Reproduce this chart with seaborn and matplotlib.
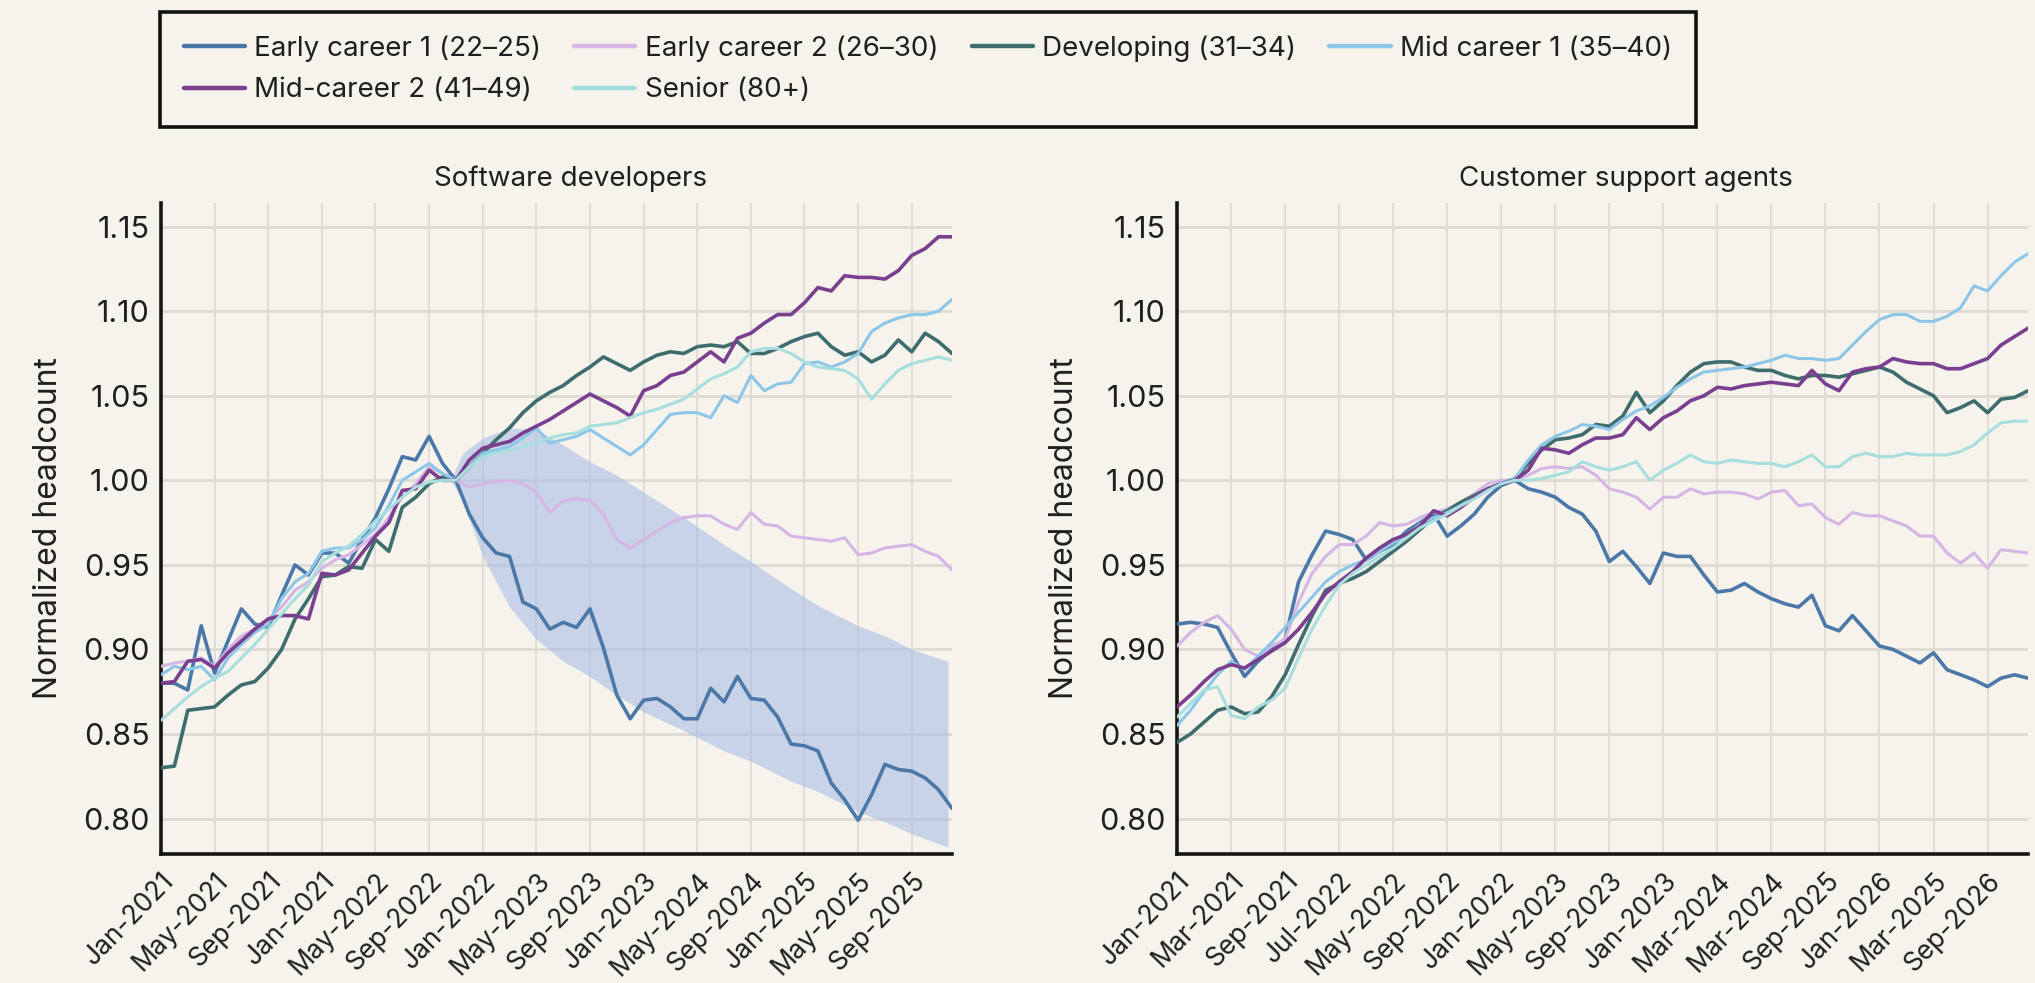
import numpy as np
import pandas as pd
import matplotlib
matplotlib.use("Agg")
import matplotlib.pyplot as plt
import seaborn as sns

# ---------------- data ----------------
groups = ["Early career 1 (22–25)", "Early career 2 (26–30)", "Developing (31–34)",
          "Mid career 1 (35–40)", "Mid-career 2 (41–49)", "Senior (80+)"]
colors = ["#4c78a8", "#d6b6e4", "#3f6d6e", "#8ec6e8", "#7a3f8e", "#a8dedd"]
widths = [2.6, 2.2, 2.6, 2.2, 2.6, 2.2]

# Software developers, monthly from Jan-2021
sw_months = list(range(60))
sw_early1 = [0.880, 0.880, 0.876, 0.914, 0.886, 0.905, 0.924, 0.915, 0.913, 0.932,
             0.950, 0.944, 0.957, 0.957, 0.951, 0.965, 0.978, 0.995, 1.014, 1.012,
             1.026, 1.010, 1.000, 0.980, 0.966, 0.957, 0.955, 0.928, 0.924, 0.912,
             0.916, 0.913, 0.924, 0.901, 0.873, 0.859, 0.870, 0.871, 0.866, 0.859,
             0.859, 0.877, 0.869, 0.884, 0.871, 0.870, 0.860, 0.844, 0.843, 0.840,
             0.821, 0.811, 0.799, 0.814, 0.832, 0.829, 0.828, 0.824, 0.817, 0.806]
sw_early2 = [0.890, 0.892, 0.893, 0.895, 0.890, 0.900, 0.908, 0.912, 0.918, 0.925,
             0.935, 0.940, 0.948, 0.953, 0.956, 0.962, 0.968, 0.978, 0.990, 0.998,
             1.008, 1.004, 1.000, 0.996, 0.998, 0.999, 1.000, 0.998, 0.993, 0.981,
             0.988, 0.989, 0.988, 0.980, 0.965, 0.960, 0.965, 0.970, 0.975, 0.978,
             0.979, 0.979, 0.974, 0.971, 0.981, 0.974, 0.973, 0.967, 0.966, 0.965,
             0.964, 0.966, 0.956, 0.957, 0.960, 0.961, 0.962, 0.958, 0.955, 0.947]
sw_developing = [0.830, 0.831, 0.864, 0.865, 0.866, 0.873, 0.879, 0.881, 0.889, 0.900,
                 0.918, 0.930, 0.943, 0.944, 0.949, 0.948, 0.965, 0.958, 0.984, 0.990,
                 0.998, 1.002, 1.000, 1.008, 1.016, 1.024, 1.031, 1.040, 1.047, 1.052,
                 1.056, 1.062, 1.067, 1.073, 1.069, 1.065, 1.070, 1.074, 1.076, 1.075,
                 1.079, 1.080, 1.079, 1.082, 1.075, 1.075, 1.078, 1.082, 1.085, 1.087,
                 1.079, 1.074, 1.076, 1.070, 1.074, 1.083, 1.076, 1.087, 1.082, 1.075]
sw_mid1 = [0.885, 0.890, 0.888, 0.890, 0.882, 0.895, 0.903, 0.910, 0.915, 0.930,
           0.940, 0.945, 0.958, 0.960, 0.960, 0.965, 0.972, 0.985, 1.000, 1.005,
           1.010, 1.004, 1.000, 1.008, 1.016, 1.018, 1.020, 1.025, 1.031, 1.022,
           1.024, 1.026, 1.030, 1.025, 1.020, 1.015, 1.021, 1.030, 1.039, 1.040,
           1.040, 1.037, 1.050, 1.046, 1.062, 1.053, 1.057, 1.058, 1.069, 1.070,
           1.067, 1.070, 1.075, 1.088, 1.093, 1.096, 1.098, 1.098, 1.100, 1.107]
sw_mid2 = [0.880, 0.881, 0.893, 0.894, 0.889, 0.898, 0.905, 0.912, 0.918, 0.920,
           0.920, 0.918, 0.945, 0.944, 0.947, 0.957, 0.967, 0.975, 0.994, 0.995,
           1.006, 1.000, 1.000, 1.012, 1.019, 1.021, 1.023, 1.028, 1.032, 1.036,
           1.041, 1.046, 1.051, 1.047, 1.043, 1.038, 1.053, 1.056, 1.062, 1.064,
           1.070, 1.076, 1.070, 1.084, 1.087, 1.093, 1.098, 1.098, 1.105, 1.114,
           1.112, 1.121, 1.120, 1.120, 1.119, 1.124, 1.133, 1.137, 1.144, 1.144]
sw_senior = [0.858, 0.865, 0.872, 0.878, 0.883, 0.887, 0.895, 0.903, 0.912, 0.921,
             0.930, 0.938, 0.952, 0.957, 0.961, 0.968, 0.976, 0.983, 0.990, 0.996,
             0.999, 1.000, 1.000, 1.008, 1.014, 1.016, 1.018, 1.020, 1.022, 1.025,
             1.027, 1.028, 1.032, 1.033, 1.034, 1.037, 1.040, 1.042, 1.045, 1.048,
             1.054, 1.060, 1.063, 1.067, 1.076, 1.078, 1.078, 1.075, 1.070, 1.067,
             1.066, 1.065, 1.060, 1.048, 1.057, 1.065, 1.069, 1.071, 1.073, 1.071]

# uncertainty band around early career 1 (software developers)
band_months = [21.6, 22.5, 24, 26, 28, 30, 32, 34, 36, 39, 42, 44, 47, 49, 52, 54, 56, 58.7]
band_hi = [1.000, 1.016, 1.025, 1.031, 1.030, 1.021, 1.011, 1.003, 0.993, 0.978,
           0.962, 0.952, 0.936, 0.926, 0.914, 0.908, 0.900, 0.893]
band_lo = [1.000, 0.988, 0.955, 0.925, 0.906, 0.893, 0.884, 0.873, 0.863, 0.852,
           0.840, 0.834, 0.822, 0.816, 0.804, 0.798, 0.791, 0.783]

# Customer support agents, monthly from Jan-2021
cs_months = list(range(64))
cs_early1 = [0.915, 0.916, 0.915, 0.913, 0.898, 0.884, 0.893, 0.900, 0.906, 0.940,
             0.956, 0.970, 0.968, 0.965, 0.953, 0.958, 0.962, 0.970, 0.975, 0.980,
             0.967, 0.973, 0.980, 0.990, 0.997, 1.000, 0.995, 0.993, 0.990, 0.984,
             0.980, 0.970, 0.952, 0.958, 0.949, 0.939, 0.957, 0.955, 0.955, 0.944,
             0.934, 0.935, 0.939, 0.934, 0.930, 0.927, 0.925, 0.932, 0.914, 0.911,
             0.920, 0.911, 0.902, 0.900, 0.896, 0.892, 0.898, 0.888, 0.885, 0.882,
             0.878, 0.883, 0.885, 0.883]
cs_early2 = [0.902, 0.910, 0.916, 0.920, 0.912, 0.900, 0.896, 0.902, 0.906, 0.928,
             0.945, 0.955, 0.962, 0.962, 0.967, 0.975, 0.973, 0.974, 0.978, 0.981,
             0.983, 0.987, 0.992, 0.998, 1.000, 1.000, 1.003, 1.007, 1.008, 1.007,
             1.008, 1.003, 0.995, 0.993, 0.990, 0.983, 0.990, 0.990, 0.995, 0.992,
             0.993, 0.993, 0.992, 0.989, 0.993, 0.994, 0.985, 0.986, 0.978, 0.974,
             0.981, 0.979, 0.979, 0.976, 0.973, 0.967, 0.967, 0.957, 0.951, 0.957,
             0.948, 0.959, 0.958, 0.957]
cs_developing = [0.845, 0.850, 0.857, 0.864, 0.866, 0.862, 0.863, 0.872, 0.885, 0.903,
                 0.920, 0.935, 0.939, 0.942, 0.946, 0.952, 0.958, 0.964, 0.971, 0.978,
                 0.982, 0.987, 0.991, 0.995, 0.998, 1.001, 1.010, 1.018, 1.024, 1.025,
                 1.027, 1.033, 1.032, 1.038, 1.052, 1.040, 1.047, 1.056, 1.064, 1.069,
                 1.070, 1.070, 1.067, 1.065, 1.065, 1.062, 1.060, 1.062, 1.062, 1.061,
                 1.063, 1.065, 1.067, 1.064, 1.058, 1.054, 1.050, 1.040, 1.043, 1.047,
                 1.040, 1.048, 1.049, 1.053]
cs_mid1 = [0.855, 0.864, 0.875, 0.885, 0.893, 0.888, 0.896, 0.904, 0.913, 0.922,
           0.931, 0.940, 0.946, 0.950, 0.953, 0.958, 0.963, 0.968, 0.974, 0.978,
           0.981, 0.985, 0.990, 0.995, 0.998, 1.001, 1.012, 1.021, 1.026, 1.029,
           1.033, 1.032, 1.030, 1.036, 1.041, 1.044, 1.049, 1.055, 1.060, 1.064,
           1.065, 1.066, 1.067, 1.069, 1.071, 1.074, 1.072, 1.072, 1.071, 1.072,
           1.080, 1.088, 1.095, 1.098, 1.098, 1.094, 1.094, 1.097, 1.102, 1.115,
           1.112, 1.121, 1.129, 1.134]
cs_mid2 = [0.866, 0.873, 0.881, 0.888, 0.891, 0.889, 0.894, 0.899, 0.904, 0.912,
           0.922, 0.933, 0.940, 0.946, 0.954, 0.960, 0.965, 0.968, 0.973, 0.982,
           0.979, 0.984, 0.990, 0.995, 0.998, 1.000, 1.006, 1.019, 1.018, 1.016,
           1.021, 1.025, 1.025, 1.027, 1.037, 1.030, 1.037, 1.041, 1.047, 1.050,
           1.055, 1.054, 1.056, 1.057, 1.058, 1.057, 1.056, 1.065, 1.057, 1.053,
           1.064, 1.066, 1.067, 1.072, 1.070, 1.069, 1.069, 1.066, 1.066, 1.069,
           1.072, 1.080, 1.085, 1.090]
cs_senior = [0.860, 0.868, 0.876, 0.878, 0.861, 0.859, 0.866, 0.870, 0.877, 0.895,
             0.912, 0.926, 0.938, 0.945, 0.950, 0.955, 0.960, 0.966, 0.972, 0.976,
             0.980, 0.985, 0.989, 0.994, 0.998, 1.000, 1.000, 1.001, 1.003, 1.005,
             1.011, 1.008, 1.006, 1.008, 1.011, 1.000, 1.006, 1.010, 1.015, 1.011,
             1.010, 1.012, 1.011, 1.010, 1.010, 1.008, 1.011, 1.015, 1.008, 1.008,
             1.014, 1.016, 1.014, 1.014, 1.016, 1.015, 1.015, 1.015, 1.017, 1.021,
             1.028, 1.034, 1.035, 1.035]

sw_ticks = list(range(0, 60, 4))
sw_tick_labels = ["Jan-2021", "May-2021", "Sep-2021", "Jan-2021", "May-2022", "Sep-2022",
                  "Jan-2022", "May-2023", "Sep-2023", "Jan-2023", "May-2024", "Sep-2024",
                  "Jan-2025", "May-2025", "Sep-2025"]
cs_ticks = list(range(0, 64, 4))
cs_tick_labels = ["Jan-2021", "Mar-2021", "Sep-2021", "Jul-2022", "May-2022", "Sep-2022",
                  "Jan-2022", "May-2023", "Sep-2023", "Jan-2023", "Mar-2024", "Mar-2024",
                  "Sep-2025", "Jan-2026", "Mar-2025", "Sep-2026"]
y_ticks = [0.80, 0.85, 0.90, 0.95, 1.00, 1.05, 1.10, 1.15]

# ---------------- style ----------------
BG = "#f5f3ec"
INK = "#1f1f1f"
sns.set_theme(style="white")
plt.rcParams["font.family"] = ["Inter", "DejaVu Sans"]
plt.rcParams["text.color"] = INK
plt.rcParams["axes.labelcolor"] = INK
plt.rcParams["xtick.color"] = INK
plt.rcParams["ytick.color"] = INK


def long_form(months, series):
    rows = []
    for name, vals in zip(groups, series):
        rows.append(pd.DataFrame({"month": months, "value": vals, "group": name}))
    return pd.concat(rows, ignore_index=True)


sw_df = long_form(sw_months, [sw_early1, sw_early2, sw_developing, sw_mid1, sw_mid2, sw_senior])
cs_df = long_form(cs_months, [cs_early1, cs_early2, cs_developing, cs_mid1, cs_mid2, cs_senior])

fig = plt.figure(figsize=(20.35, 9.83), dpi=100, facecolor=BG)
ax1 = fig.add_axes([0.0791, 0.1312, 0.3887, 0.6623])
ax2 = fig.add_axes([0.5784, 0.1312, 0.4182, 0.6623])

ax1.fill_between(band_months, band_lo, band_hi, color="#9db4e6", alpha=0.5,
                 linewidth=0, zorder=1)

panels = [
    (ax1, sw_df, "Software developers", (0, 59), sw_ticks, sw_tick_labels, 0.518),
    (ax2, cs_df, "Customer support agents", (0, 63), cs_ticks, cs_tick_labels, 0.528),
]
for ax, df, title, xlim, ticks, labels, tx in panels:
    ax.set_facecolor(BG)
    for name, col, lw in zip(groups, colors, widths):
        sub = df[df["group"] == name]
        sns.lineplot(data=sub, x="month", y="value", color=col, linewidth=lw,
                     label=name, legend=False, ax=ax, zorder=3)
    ax.set_xlim(*xlim)
    ax.set_ylim(0.779, 1.164)
    ax.set_xticks(ticks)
    ax.set_xticklabels(labels, rotation=46, ha="right", va="top",
                       rotation_mode="anchor", fontsize=19)
    ax.set_yticks(y_ticks)
    ax.set_yticklabels([f"{v:.2f}" for v in y_ticks], fontsize=22)
    ax.tick_params(axis="both", length=0)
    ax.tick_params(axis="y", pad=8)
    ax.tick_params(axis="x", pad=10)
    ax.grid(axis="y", color="#dedbd4", linewidth=2.0, zorder=0)
    ax.grid(axis="x", color="#dedbd4", linewidth=1.3, zorder=0)
    ax.set_axisbelow(True)
    for s in ["top", "right"]:
        ax.spines[s].set_visible(False)
    for s in ["left", "bottom"]:
        ax.spines[s].set_linewidth(2.6)
        ax.spines[s].set_color("#151515")
    ax.set_xlabel("")
    ax.set_ylabel("Normalized headcount", fontsize=23, labelpad=14)
    ax.set_title(title, fontsize=20, pad=12, x=tx)

# legend, filled row by row
handles, labs = ax1.get_legend_handles_labels()
order = [0, 4, 1, 5, 2, 3]
leg = fig.legend([handles[i] for i in order], [labs[i] for i in order],
                 loc="upper left", bbox_to_anchor=(0.0786, 0.8698, 0.7548, 0.118),
                 mode="expand", ncol=4, fontsize=20, frameon=True, fancybox=False,
                 borderaxespad=0, borderpad=0.85, labelspacing=0.55,
                 handlelength=2.2, handletextpad=0.35)
frame = leg.get_frame()
frame.set_edgecolor("#111111")
frame.set_linewidth(2.6)
frame.set_facecolor(BG)
frame.set_alpha(1)
for line in leg.get_lines():
    line.set_linewidth(3.2)

fig.savefig("out.png", dpi=100, facecolor=BG)
